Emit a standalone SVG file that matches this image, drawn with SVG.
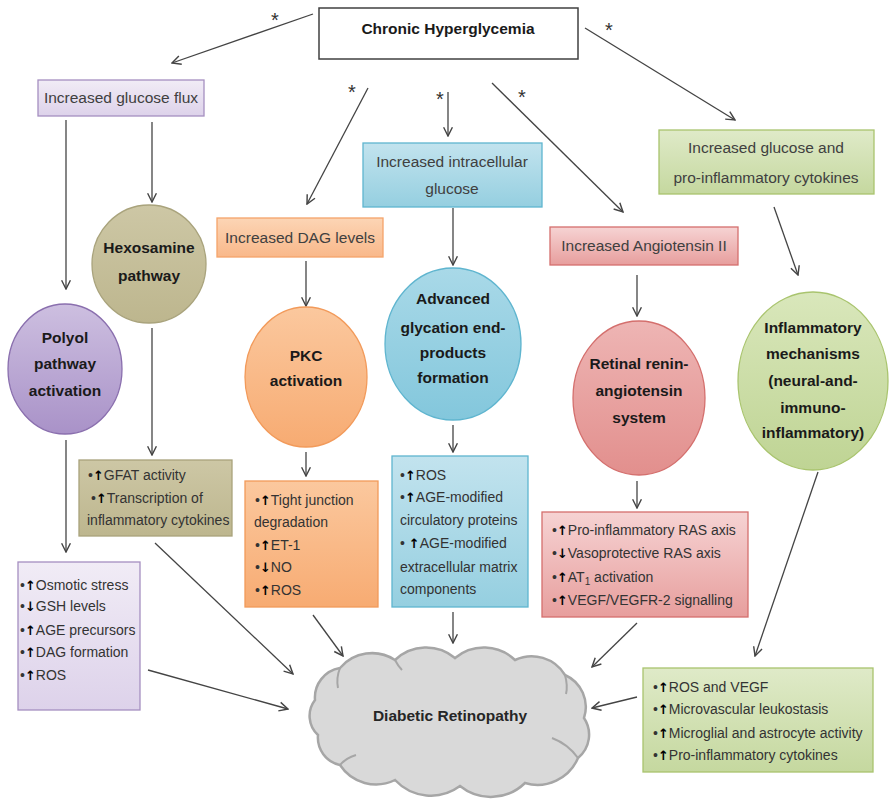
<svg xmlns="http://www.w3.org/2000/svg" width="889" height="799" viewBox="0 0 889 799">
<defs>
<style>
text{font-family:"Liberation Sans",Arial,sans-serif;}
.bx{font-size:15.5px;fill:#404040;text-anchor:middle;}
.ci{font-size:15.5px;font-weight:bold;fill:#1a1a1a;text-anchor:middle;}
.li{font-size:14px;fill:#333333;}
.ar{font-family:"DejaVu Sans",sans-serif;font-weight:bold;font-size:13px;fill:#000;}
.star{font-size:20px;fill:#333;text-anchor:middle;}
.cn line{stroke:#444;stroke-width:1.3;marker-end:url(#ah);}
.curl{fill:none;stroke:#a6a6a6;stroke-width:2;}
</style>
<marker id="ah" viewBox="0 0 10 10" refX="9" refY="5" markerWidth="11" markerHeight="11" markerUnits="userSpaceOnUse" orient="auto">
<path d="M1,1 L9,5 L1,9" fill="none" stroke="#444" stroke-width="1.3"/>
</marker>
<linearGradient id="gPu" x1="0" y1="0" x2="0" y2="1"><stop offset="0" stop-color="#f1ecf6"/><stop offset="1" stop-color="#ddd2ea"/></linearGradient>
<linearGradient id="gPuC" x1="0" y1="0" x2="0" y2="1"><stop offset="0" stop-color="#cdbfe0"/><stop offset="1" stop-color="#a992c8"/></linearGradient>
<linearGradient id="gOl" x1="0" y1="0" x2="0" y2="1"><stop offset="0" stop-color="#cdc7a5"/><stop offset="1" stop-color="#bdb68e"/></linearGradient>
<linearGradient id="gOr" x1="0" y1="0" x2="0" y2="1"><stop offset="0" stop-color="#fcd5b5"/><stop offset="1" stop-color="#f9b88a"/></linearGradient>
<linearGradient id="gOrC" x1="0" y1="0" x2="0" y2="1"><stop offset="0" stop-color="#fbc89e"/><stop offset="1" stop-color="#f7ab72"/></linearGradient>
<linearGradient id="gBl" x1="0" y1="0" x2="0" y2="1"><stop offset="0" stop-color="#c2e3ee"/><stop offset="1" stop-color="#95cfe0"/></linearGradient>
<linearGradient id="gBlC" x1="0" y1="0" x2="0" y2="1"><stop offset="0" stop-color="#a9d9e8"/><stop offset="1" stop-color="#83c7dc"/></linearGradient>
<linearGradient id="gRd" x1="0" y1="0" x2="0" y2="1"><stop offset="0" stop-color="#f6d3d3"/><stop offset="1" stop-color="#e79e9d"/></linearGradient>
<linearGradient id="gRdC" x1="0" y1="0" x2="0" y2="1"><stop offset="0" stop-color="#eeb5b4"/><stop offset="1" stop-color="#e28f8d"/></linearGradient>
<linearGradient id="gGr" x1="0" y1="0" x2="0" y2="1"><stop offset="0" stop-color="#dfeac8"/><stop offset="1" stop-color="#c5d89f"/></linearGradient>
<linearGradient id="gGrC" x1="0" y1="0" x2="0" y2="1"><stop offset="0" stop-color="#d9e7bb"/><stop offset="1" stop-color="#bfd494"/></linearGradient>
</defs>
<rect width="889" height="799" fill="#ffffff"/>

<g class="cn" id="connectors">
<line x1="313" y1="14" x2="172" y2="63"/>
<line x1="368" y1="88" x2="307" y2="204"/>
<line x1="448" y1="92" x2="448" y2="136"/>
<line x1="492" y1="83" x2="623" y2="212"/>
<line x1="585" y1="28" x2="735" y2="120"/>
<line x1="66" y1="120" x2="66" y2="289"/>
<line x1="152" y1="122" x2="152" y2="202"/>
<line x1="152" y1="328" x2="152" y2="455"/>
<line x1="66" y1="440" x2="66" y2="552"/>
<line x1="155" y1="543" x2="293" y2="674"/>
<line x1="148" y1="670" x2="288" y2="709"/>
<line x1="306" y1="261" x2="306" y2="306"/>
<line x1="306" y1="452" x2="306" y2="476"/>
<line x1="313" y1="615" x2="343" y2="656"/>
<line x1="453" y1="208" x2="453" y2="265"/>
<line x1="453" y1="425" x2="453" y2="452"/>
<line x1="453" y1="612" x2="453" y2="643"/>
<line x1="637" y1="275" x2="637" y2="316"/>
<line x1="637" y1="481" x2="637" y2="508"/>
<line x1="637" y1="623" x2="592" y2="667"/>
<line x1="774" y1="207" x2="798" y2="275"/>
<line x1="818" y1="472" x2="755" y2="656"/>
<line x1="637" y1="697" x2="592" y2="708"/>
</g>
<g id="stars">
<text class="star" x="275" y="27">*</text>
<text class="star" x="352" y="99">*</text>
<text class="star" x="440" y="106">*</text>
<text class="star" x="522" y="104">*</text>
<text class="star" x="609" y="37">*</text>
</g>

<g id="chronic">
<rect x="319" y="8" width="259" height="51" fill="#fff" stroke="#404040" stroke-width="1.5"/>
<text class="ci" x="448" y="34">Chronic Hyperglycemia</text>
</g>

<g id="glucose-flux">
<rect x="38" y="80" width="166" height="36" fill="url(#gPu)" stroke="#a58fc0" stroke-width="1.3"/>
<text class="bx" x="121" y="103">Increased glucose flux</text>
</g>

<g id="hexosamine">
<ellipse cx="149" cy="264" rx="57" ry="59" fill="url(#gOl)" stroke="#a9a37c" stroke-width="1.3"/>
<text class="ci" x="149" y="253">Hexosamine</text>
<text class="ci" x="149" y="281">pathway</text>
</g>

<g id="polyol">
<ellipse cx="65" cy="369" rx="57" ry="65" fill="url(#gPuC)" stroke="#8a6fae" stroke-width="1.3"/>
<text class="ci" x="65" y="343">Polyol</text>
<text class="ci" x="65" y="369">pathway</text>
<text class="ci" x="65" y="396">activation</text>
</g>

<g id="gfat">
<rect x="79" y="460" width="153" height="76" fill="url(#gOl)" stroke="#a9a37c" stroke-width="1.3"/>
<text class="li" x="88" y="480">•<tspan class="ar">↑</tspan>GFAT activity</text>
<text class="li" x="91" y="503">•<tspan class="ar">↑</tspan>Transcription of</text>
<text class="li" x="87" y="525">inflammatory cytokines</text>
</g>

<g id="polyol-list">
<rect x="18" y="562" width="122" height="148" fill="url(#gPu)" stroke="#a58fc0" stroke-width="1.3"/>
<text class="li" x="20" y="590">•<tspan class="ar">↑</tspan>Osmotic stress</text>
<text class="li" x="20" y="611">•<tspan class="ar">↓</tspan>GSH levels</text>
<text class="li" x="20" y="635">•<tspan class="ar">↑</tspan>AGE precursors</text>
<text class="li" x="20" y="657">•<tspan class="ar">↑</tspan>DAG formation</text>
<text class="li" x="20" y="680">•<tspan class="ar">↑</tspan>ROS</text>
</g>

<g id="dag">
<rect x="217" y="218" width="166" height="39" fill="url(#gOr)" stroke="#f5a46a" stroke-width="1.3"/>
<text class="bx" x="300" y="243">Increased DAG levels</text>
</g>

<g id="pkc">
<ellipse cx="306" cy="377" rx="61" ry="70" fill="url(#gOrC)" stroke="#f29a5a" stroke-width="1.3"/>
<text class="ci" x="306" y="361">PKC</text>
<text class="ci" x="306" y="386">activation</text>
</g>

<g id="pkc-list">
<rect x="245" y="481" width="133" height="126" fill="url(#gOrC)" stroke="#f29a5a" stroke-width="1.3"/>
<text class="li" x="255" y="505">•<tspan class="ar">↑</tspan>Tight junction</text>
<text class="li" x="254" y="527">degradation</text>
<text class="li" x="255" y="550">•<tspan class="ar">↑</tspan>ET-1</text>
<text class="li" x="255" y="572">•<tspan class="ar">↓</tspan>NO</text>
<text class="li" x="255" y="595">•<tspan class="ar">↑</tspan>ROS</text>
</g>

<g id="intracellular">
<rect x="363" y="143" width="179" height="64" fill="url(#gBl)" stroke="#5fb5cf" stroke-width="1.3"/>
<text class="bx" x="452" y="167">Increased intracellular</text>
<text class="bx" x="452" y="194">glucose</text>
</g>

<g id="age">
<ellipse cx="453" cy="344" rx="68" ry="76" fill="url(#gBlC)" stroke="#5fb5cf" stroke-width="1.3"/>
<text class="ci" x="453" y="304">Advanced</text>
<text class="ci" x="453" y="333">glycation end-</text>
<text class="ci" x="453" y="358">products</text>
<text class="ci" x="453" y="383">formation</text>
</g>

<g id="age-list">
<rect x="392" y="456" width="136" height="151" fill="url(#gBl)" stroke="#5fb5cf" stroke-width="1.3"/>
<text class="li" x="400" y="480">•<tspan class="ar">↑</tspan>ROS</text>
<text class="li" x="400" y="502">•<tspan class="ar">↑</tspan>AGE-modified</text>
<text class="li" x="400" y="525">circulatory proteins</text>
<text class="li" x="400" y="548">• <tspan class="ar">↑</tspan>AGE-modified</text>
<text class="li" x="400" y="572">extracellular matrix</text>
<text class="li" x="400" y="594">components</text>
</g>

<g id="angiotensin">
<rect x="550" y="227" width="188" height="38" fill="url(#gRd)" stroke="#d46f6d" stroke-width="1.3"/>
<text class="bx" x="644" y="251">Increased Angiotensin II</text>
</g>

<g id="retinal">
<ellipse cx="639" cy="398" rx="66" ry="77" fill="url(#gRdC)" stroke="#d46f6d" stroke-width="1.3"/>
<text class="ci" x="639" y="369">Retinal renin-</text>
<text class="ci" x="639" y="396">angiotensin</text>
<text class="ci" x="639" y="423">system</text>
</g>

<g id="ras-list">
<rect x="542" y="512" width="206" height="105" fill="url(#gRd)" stroke="#d46f6d" stroke-width="1.3"/>
<text class="li" x="552" y="535">•<tspan class="ar">↑</tspan>Pro-inflammatory RAS axis</text>
<text class="li" x="552" y="558">•<tspan class="ar">↓</tspan>Vasoprotective RAS axis</text>
<text class="li" x="552" y="582">•<tspan class="ar">↑</tspan>AT<tspan font-size="10" dy="3">1</tspan><tspan dy="-3"> activation</tspan></text>
<text class="li" x="552" y="605">•<tspan class="ar">↑</tspan>VEGF/VEGFR-2 signalling</text>
</g>

<g id="cytokines">
<rect x="659" y="130" width="215" height="64" fill="url(#gGr)" stroke="#a9c46e" stroke-width="1.3"/>
<text class="bx" x="766" y="153">Increased glucose and</text>
<text class="bx" x="766" y="183">pro-inflammatory cytokines</text>
</g>

<g id="inflammatory">
<ellipse cx="813" cy="381" rx="75" ry="89" fill="url(#gGrC)" stroke="#a9c46e" stroke-width="1.3"/>
<text class="ci" x="813" y="333">Inflammatory</text>
<text class="ci" x="813" y="359">mechanisms</text>
<text class="ci" x="813" y="386">(neural-and-</text>
<text class="ci" x="813" y="413">immuno-</text>
<text class="ci" x="813" y="438">inflammatory)</text>
</g>

<g id="green-list">
<rect x="643" y="668" width="230" height="104" fill="url(#gGr)" stroke="#a9c46e" stroke-width="1.3"/>
<text class="li" x="653" y="692">•<tspan class="ar">↑</tspan>ROS and VEGF</text>
<text class="li" x="653" y="714">•<tspan class="ar">↑</tspan>Microvascular leukostasis</text>
<text class="li" x="653" y="738">•<tspan class="ar">↑</tspan>Microglial and astrocyte activity</text>
<text class="li" x="653" y="760">•<tspan class="ar">↑</tspan>Pro-inflammatory cytokines</text>
</g>

<g id="cloud">
<path d="M315,700 A30,30 0 0 1 340,668 A42,42 0 0 1 395,660 A45,45 0 0 1 455,658 A45,45 0 0 1 515,660 A39,39 0 0 1 565,675 A35,35 0 0 1 584,718 A30,30 0 0 1 578,758 A44,44 0 0 1 525,783 A49,49 0 0 1 460,786 A49,49 0 0 1 395,780 A43,43 0 0 1 340,765 A28,28 0 0 1 318,735 A26,26 0 0 1 315,700 Z" fill="#d9d9d9" stroke="#a6a6a6" stroke-width="2.5"/>
<path class="curl" d="M340,668 Q336,678 338,688"/>
<path class="curl" d="M395,660 Q398,666 402,670"/>
<path class="curl" d="M565,675 Q568,686 566,694"/>
<path class="curl" d="M578,758 Q568,744 552,738"/>
<path class="curl" d="M340,765 Q346,758 356,755"/>
<text class="ci" x="450" y="721" style="fill:#262626">Diabetic Retinopathy</text>
</g>
</svg>
